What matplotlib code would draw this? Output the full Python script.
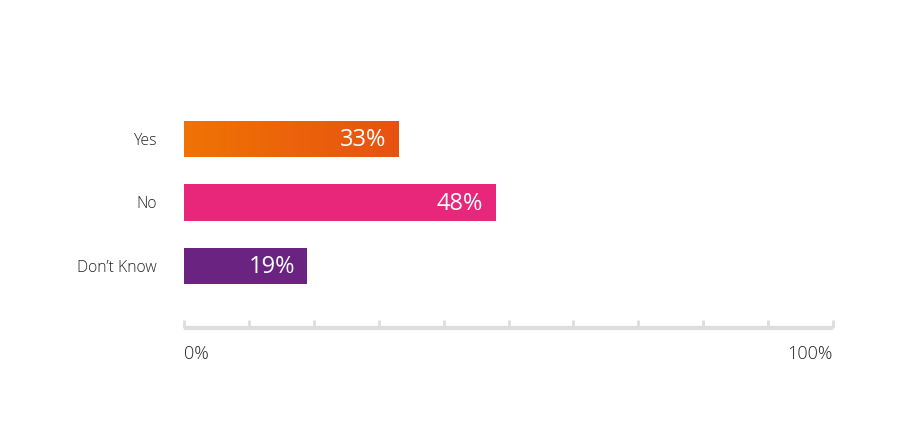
import matplotlib.pyplot as plt
import numpy as np
from matplotlib.colors import LinearSegmentedColormap

# data
categories = ["Yes", "No", "Don\u2019t Know"]
values = [33, 48, 19]
bar_colors = ["#EC6808", "#E8267A", "#6A2380"]

plt.rcParams['font.family'] = ['Open Sans', 'DejaVu Sans']

fig = plt.figure(figsize=(9, 4.24), dpi=100)
# axes spans from x=184px to 833px, y=100px to 328px (from top)
ax = fig.add_axes([184 / 900, 1 - 328 / 424, (833 - 184) / 900, (328 - 100) / 424])

pos = np.arange(len(categories))
bars = ax.barh(pos, values, height=0.567, color=bar_colors)

# gradient on the first bar (orange -> darker orange)
grad = LinearSegmentedColormap.from_list("g", ["#EF7403", "#E85212"])
b0 = bars[0]
x0, y0 = b0.get_x(), b0.get_y()
w, h = b0.get_width(), b0.get_height()
im = ax.imshow(np.linspace(0, 1, 256).reshape(1, -1), cmap=grad, aspect='auto',
               extent=[x0, x0 + w, y0 + h, y0], zorder=3)
im.set_clip_path(b0)

ax.set_xlim(0, 100)
ax.set_ylim(2.976, -0.614)

# value labels inside the bars
for p, v in zip(pos, values):
    ax.text(v - 1.9, p + 0.02, f"{v}%", ha='right', va='center', color='white',
            fontsize=17, zorder=5)

# category labels
for p, c in zip(pos, categories):
    ax.text(-4.2, p + 0.03, c, ha='right', va='center', color='#222222',
            fontsize=11.3, fontweight='light')

for s in ['top', 'right', 'left']:
    ax.spines[s].set_visible(False)
ax.spines['bottom'].set_color('#DDDDDD')
ax.spines['bottom'].set_linewidth(3)
ax.spines['bottom'].set_capstyle('butt')
ax.set_yticks([])
ax.set_xticks(np.arange(0, 101, 10))
ax.tick_params(axis='x', direction='in', length=6, width=2, color='#DDDDDD',
               labelbottom=False)

ax.text(0, -0.075, "0%", transform=ax.transAxes, ha='left', va='top',
        fontsize=13, fontweight='light', color='#222222')
ax.text(1, -0.075, "100%", transform=ax.transAxes, ha='right', va='top',
        fontsize=13, fontweight='light', color='#222222')

fig.savefig("out.png", dpi=100, facecolor='white')
